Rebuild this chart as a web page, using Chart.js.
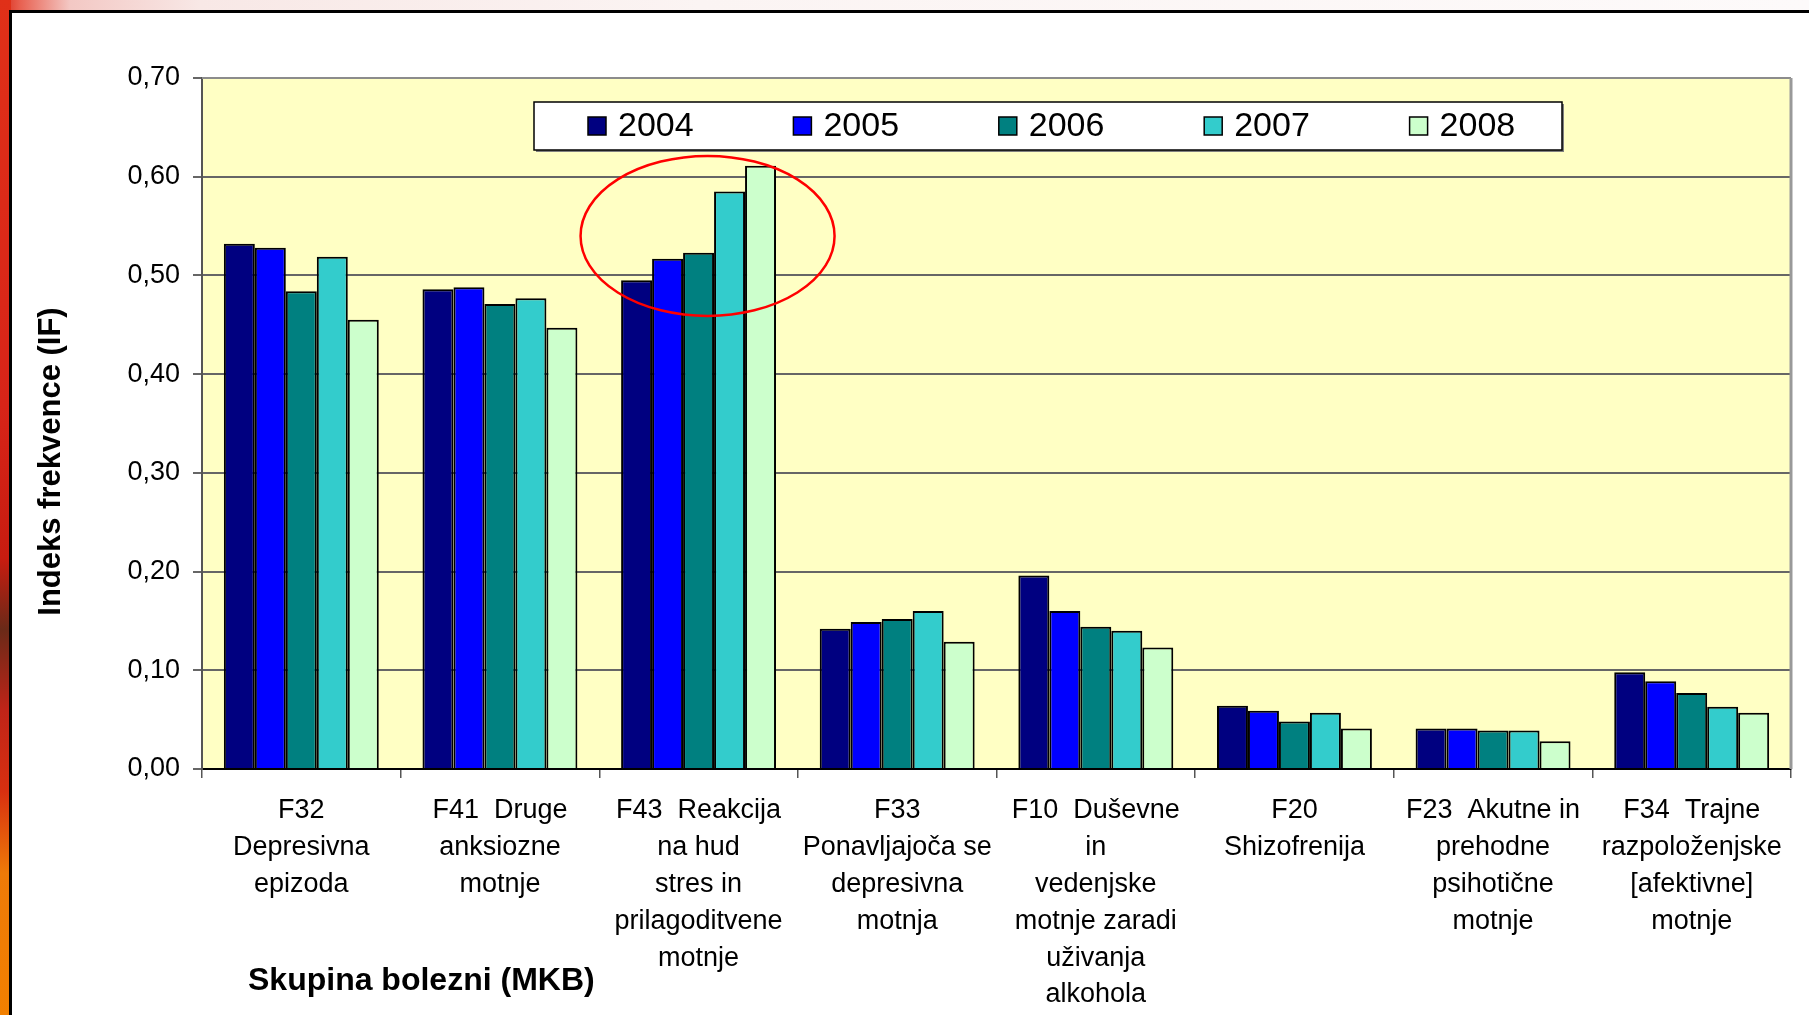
<!DOCTYPE html>
<html>
<head>
<meta charset="utf-8">
<script src="https://cdn.jsdelivr.net/npm/chart.js@4.4.1/dist/chart.umd.min.js"></script>
<style>
  html, body { margin: 0; padding: 0; width: 1809px; height: 1015px; overflow: hidden; background: #fff; }
  #topbar { position: absolute; left: 0; top: 0; width: 1809px; height: 12px;
    background: linear-gradient(to right, #d82a18 0px, #e86050 20px, #f3c8c4 70px, #f8e8e6 200px, #fbf4f3 700px, #fdfafa 1809px); }
  #leftbar { position: absolute; left: 0; top: 0; width: 11px; height: 1015px;
    background: linear-gradient(to bottom, #e03018 0%, #d82418 40%, #c81c10 55%, #6a2a18 62%, #c02418 70%, #d83010 78%, #ee7a08 86%, #f28000 100%); }
  #frame { position: absolute; left: 9px; top: 10px; width: 1830px; height: 1030px;
    border-left: 3px solid #000; border-top: 3px solid #000; background: #fff; }
  #myChart { position: absolute; left: 0; top: 0; z-index: 2; }
</style>
</head>
<body>
<div id="topbar"></div>
<div id="leftbar"></div>
<div id="frame"></div>
<canvas id="myChart" width="1809" height="1015"></canvas>
<script>
const labels = [
  ["F32", "Depresivna", "epizoda"],
  ["F41  Druge", "anksiozne", "motnje"],
  ["F43  Reakcija", "na hud", "stres in", "prilagoditvene", "motnje"],
  ["F33", "Ponavljajoča se", "depresivna", "motnja"],
  ["F10  Duševne", "in", "vedenjske", "motnje zaradi", "uživanja", "alkohola"],
  ["F20", "Shizofrenija"],
  ["F23  Akutne in", "prehodne", "psihotične", "motnje"],
  ["F34  Trajne", "razpoloženjske", "[afektivne]", "motnje"]
];

const years = ['2004', '2005', '2006', '2007', '2008'];

const if2004 = [0.532, 0.486, 0.495, 0.142, 0.196, 0.064, 0.041, 0.098];
const if2005 = [0.528, 0.488, 0.517, 0.149, 0.160, 0.059, 0.041, 0.089];
const if2006 = [0.484, 0.471, 0.523, 0.152, 0.144, 0.048, 0.039, 0.077];
const if2007 = [0.519, 0.477, 0.585, 0.160, 0.140, 0.057, 0.039, 0.063];
const if2008 = [0.455, 0.447, 0.611, 0.129, 0.123, 0.041, 0.028, 0.057];

const yTickLabels = ['0,00', '0,10', '0,20', '0,30', '0,40', '0,50', '0,60', '0,70'];

const colors = ['#000080', '#0000ff', '#008080', '#33cccc', '#ccffcc'];

const FONT = '"Liberation Sans", Arial, sans-serif';
Chart.defaults.font.family = FONT;
Chart.defaults.color = '#000';

// yellow plot background
const plotBg = {
  id: 'plotBg',
  beforeDraw(chart) {
    const { ctx, chartArea: a } = chart;
    ctx.save();
    ctx.fillStyle = '#ffffc4';
    ctx.fillRect(a.left, a.top, a.right - a.left, a.bottom - a.top);
    ctx.restore();
  }
};

// gray top and right border, legend box, red ellipse, axis titles
const extras = {
  id: 'extras',
  afterDraw(chart) {
    const { ctx, chartArea: a } = chart;
    const x = chart.scales.x, y = chart.scales.y;
    ctx.save();

    ctx.strokeStyle = '#8c8c8c';
    ctx.lineWidth = 2;
    ctx.beginPath();
    ctx.moveTo(a.left, a.top);
    ctx.lineTo(a.right, a.top);
    ctx.stroke();
    ctx.strokeStyle = '#999';
    ctx.lineWidth = 3;
    ctx.beginPath();
    ctx.moveTo(a.right, a.top);
    ctx.lineTo(a.right, a.bottom);
    ctx.stroke();

    // legend
    const lx = a.left + 332, ly = a.top + 24, lw = 1028, lh = 48;
    ctx.fillStyle = '#808080';
    ctx.fillRect(lx + 2, ly + 2, lw, lh);
    ctx.fillStyle = '#fff';
    ctx.fillRect(lx, ly, lw, lh);
    ctx.strokeStyle = '#000';
    ctx.lineWidth = 1.5;
    ctx.strokeRect(lx, ly, lw, lh);
    ctx.font = '34px ' + FONT;
    ctx.textBaseline = 'middle';
    chart.data.datasets.forEach((ds, i) => {
      const ix = lx + 54 + i * 205.4, iy = ly + lh / 2;
      ctx.fillStyle = ds.backgroundColor;
      ctx.fillRect(ix, iy - 9, 18, 18);
      ctx.strokeRect(ix, iy - 9, 18, 18);
      ctx.fillStyle = '#000';
      ctx.fillText(ds.label, ix + 30, iy + 1);
    });

    // red ellipse around F43
    ctx.strokeStyle = '#ff0000';
    ctx.lineWidth = 2.5;
    ctx.beginPath();
    ctx.ellipse(x.getPixelForValue(2) + 9, y.getPixelForValue(0.54), 127, 80, 0, 0, Math.PI * 2);
    ctx.stroke();

    // axis titles
    ctx.fillStyle = '#000';
    ctx.font = 'bold 32px ' + FONT;
    ctx.textBaseline = 'alphabetic';
    ctx.textAlign = 'left';
    ctx.fillText('Skupina bolezni (MKB)', a.left + 46, a.bottom + 221);

    ctx.font = 'bold 31px ' + FONT;
    ctx.translate(60, (a.top + a.bottom) / 2 + 38);
    ctx.rotate(-Math.PI / 2);
    ctx.textAlign = 'center';
    ctx.fillText('Indeks frekvence (IF)', 0, 0);
    ctx.restore();
  }
};

const data = {
  labels: labels,
  datasets: [if2004, if2005, if2006, if2007, if2008].map((vals, i) => ({
    label: years[i],
    data: vals,
    backgroundColor: colors[i],
    borderColor: '#000',
    borderWidth: 2,
    categoryPercentage: 0.78,
    barPercentage: 1.0
  }))
};

const config = {
  type: 'bar',
  data: data,
  options: {
    responsive: false,
    animation: false,
    devicePixelRatio: 1,
    layout: { padding: { left: 0, top: 78, right: 18, bottom: 0 } },
    plugins: {
      legend: { display: false },
      tooltip: { enabled: false }
    },
    scales: {
      x: {
        grid: {
          display: true,
          drawOnChartArea: false,
          drawTicks: true,
          tickLength: 9,
          color: '#555',
          lineWidth: 1.5
        },
        border: { display: true, color: '#000', width: 2 },
        ticks: {
          autoSkip: false,
          maxRotation: 0,
          minRotation: 0,
          padding: 14,
          color: '#000',
          font: { size: 27, lineHeight: 1.367 }
        },
        afterFit(scale) { scale.height = 246; }
      },
      y: {
        min: 0,
        max: 0.7,
        ticks: {
          stepSize: 0.1,
          padding: 13,
          color: '#000',
          font: { size: 27 },
          callback: (v, i) => yTickLabels[i]
        },
        grid: { color: '#666', lineWidth: 2, tickLength: 9 },
        border: { display: true, color: '#555', width: 2 },
        afterFit(scale) { scale.width = 202; }
      }
    }
  },
  plugins: [plotBg, extras]
};

const myChart = new Chart(
  document.getElementById('myChart'),
  config
);
</script>
</body>
</html>
